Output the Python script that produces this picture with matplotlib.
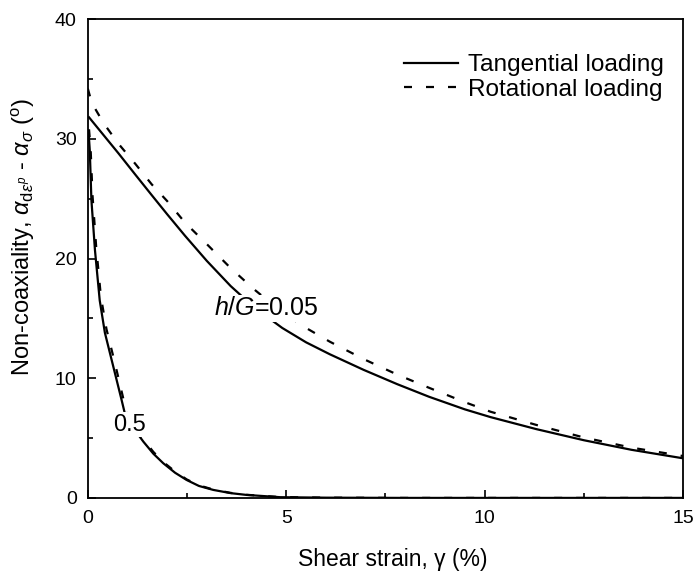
import matplotlib
matplotlib.use('Agg')
import matplotlib.pyplot as plt
from matplotlib.ticker import MultipleLocator

# values (x: shear strain %, y: non-coaxiality deg)
x_tan_005 = [0.03, 0.4, 0.77, 1.2, 1.61, 2.0, 2.45, 3.0, 3.6, 4.2, 4.9, 5.5, 6.1, 6.95, 7.8, 8.6, 9.5, 10.15, 11.3, 12.5, 13.7, 15.0]
y_tan_005 = [31.8, 30.3, 28.8, 27.0, 25.3, 23.7, 21.9, 19.8, 17.7, 15.9, 14.2, 13.0, 12.0, 10.7, 9.5, 8.45, 7.4, 6.75, 5.75, 4.82, 4.02, 3.31]

x_rot_005 = [0.0, 0.1, 0.4, 0.77, 1.2, 1.61, 2.0, 2.45, 3.0, 3.6, 4.2, 4.9, 5.5, 6.1, 6.95, 7.8, 8.6, 9.5, 10.15, 11.3, 12.5, 13.7, 15.0]
y_rot_005 = [34.2, 33.0, 31.3, 29.6, 27.9, 26.2, 24.8, 23.0, 21.2, 19.2, 17.4, 15.5, 14.2, 13.05, 11.6, 10.3, 9.2, 8.0, 7.2, 6.1, 5.05, 4.2, 3.5]

x_tan_05 = [0.02, 0.05, 0.09, 0.18, 0.3, 0.43, 0.64, 0.85, 0.98, 1.2, 1.4, 1.65, 1.9, 2.2, 2.49, 2.8, 3.16, 3.6, 4.0, 4.85, 6.0, 8.0, 10.0, 12.0, 15.0]
y_tan_05 = [30.5, 29.0, 24.9, 20.7, 16.5, 13.8, 11.0, 8.2, 6.4, 5.6, 4.7, 3.7, 2.9, 2.1, 1.5, 1.0, 0.67, 0.4, 0.25, 0.06, 0.02, 0.0, 0.0, 0.0, 0.0]

x_rot_05 = [0.03, 0.07, 0.12, 0.21, 0.33, 0.47, 0.68, 0.88, 1.0, 1.2, 1.4, 1.65, 1.9, 2.2, 2.49, 2.8, 3.16, 3.6, 4.0, 4.85, 6.0, 8.0, 10.0, 12.0, 15.0]
y_rot_05 = [30.8, 29.2, 25.2, 21.0, 16.8, 14.1, 11.3, 8.5, 6.7, 5.8, 4.9, 3.85, 3.0, 2.2, 1.55, 1.05, 0.7, 0.42, 0.26, 0.07, 0.02, 0.0, 0.0, 0.0, 0.0]

legend_labels = ['Tangential loading', 'Rotational loading']

plt.rcParams['font.family'] = ['Liberation Sans', 'DejaVu Sans']
plt.rcParams['mathtext.fontset'] = 'custom'
plt.rcParams['mathtext.rm'] = 'Liberation Sans'
plt.rcParams['mathtext.it'] = 'Liberation Sans:italic'
plt.rcParams['mathtext.sf'] = 'Liberation Sans'

fig = plt.figure(figsize=(6.97, 5.81), dpi=100)
ax = fig.add_axes([0.126, 0.143, 0.854, 0.824])

dash = (3.6, 6.3)
lw = 1.6
ax.plot(x_tan_005, y_tan_005, color='black', lw=lw, label=legend_labels[0])
ax.plot(x_rot_005, y_rot_005, color='black', lw=lw, dashes=dash, label=legend_labels[1])
ax.plot(x_tan_05, y_tan_05, color='black', lw=lw)
ax.plot(x_rot_05, y_rot_05, color='black', lw=lw, dashes=dash)

# curve labels with white boxes cutting the lines
ax.text(4.5, 15.85, '$h/G$=0.05', fontsize=18, ha='center', va='center',
        bbox=dict(facecolor='white', edgecolor='none', pad=1.0), zorder=5)
ax.text(1.06, 6.1, '0.5', fontsize=17, ha='center', va='center',
        bbox=dict(facecolor='white', edgecolor='none', pad=1.0), zorder=5)

ax.set_xlim(0, 15)
ax.set_ylim(0, 40)
ax.xaxis.set_major_locator(MultipleLocator(5))
ax.xaxis.set_minor_locator(MultipleLocator(2.5))
ax.yaxis.set_major_locator(MultipleLocator(10))
ax.yaxis.set_minor_locator(MultipleLocator(5))
ax.tick_params(which='both', direction='in', top=False, right=False, labelsize=14, width=1.2)
ax.tick_params(which='major', length=6)
ax.tick_params(which='minor', length=3.5)
ax.tick_params(axis='x', which='major', pad=9)
ax.tick_params(axis='y', which='major', pad=8)
for s in ax.spines.values():
    s.set_linewidth(1.3)

ax.set_xlabel('Shear strain, γ (%)', fontsize=16.5)
ax.set_ylabel(r'Non-coaxiality, $\alpha_{\mathrm{d}\varepsilon^{p}}$ - $\alpha_{\sigma}$ ($^{\mathrm{o}}$)',
              fontsize=17)
ax.xaxis.set_label_coords(0.513, -0.105)
ax.yaxis.set_label_coords(-0.085, 0.545)

ax.legend(loc='upper right', frameon=False, fontsize=17.6, handlelength=2.2,
          handletextpad=0.4, labelspacing=0.1, borderaxespad=0.2,
          bbox_to_anchor=(0.992, 0.958))

plt.savefig('out.png', dpi=100)
